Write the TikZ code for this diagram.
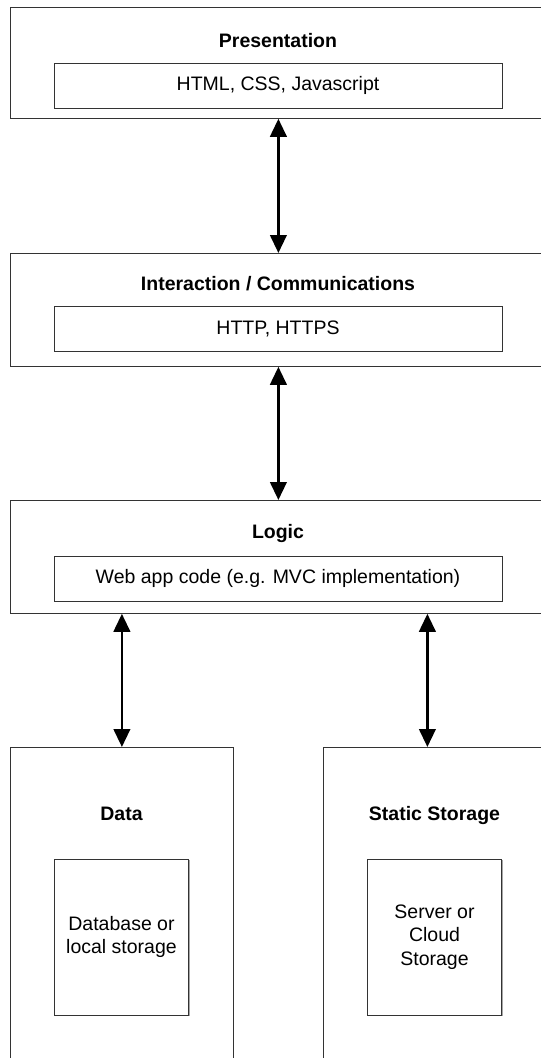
\documentclass[tikz,border=0pt]{standalone}
\usepackage{fontspec}
\setmainfont{Liberation Sans}
\usetikzlibrary{arrows.meta,shadows}
\begin{document}
\begin{tikzpicture}[x=1pt,y=-1pt,
  layer/.style={draw=black!80, line width=0.8pt, fill=white, inner sep=0pt,
    anchor=north west, minimum width=536pt,
    drop shadow={shadow xshift=0.9pt, shadow yshift=-0.9pt, opacity=1, fill=black!35}},
  column/.style={layer, minimum width=223pt, minimum height=330pt},
  item/.style={draw=black!80, line width=0.8pt, fill=white, inner sep=0pt,
    align=center, font=\fontsize{19.5}{23.5}\selectfont,
    drop shadow={shadow xshift=0.9pt, shadow yshift=-0.9pt, opacity=1, fill=black!35}},
  wideitem/.style={item, minimum width=448pt, minimum height=45pt},
  tallitem/.style={item, minimum width=134.5pt, minimum height=156pt},
  title/.style={inner sep=0pt, anchor=base, font=\fontsize{19.5}{23.5}\selectfont\bfseries},
  biarrow/.style={{Triangle[length=18pt,width=16.5pt]}-{Triangle[length=18pt,width=16.5pt]},
    line width=2.6pt, black}
]
\useasboundingbox (0,0) rectangle (541,1058);

% the three stacked tiers
\node[layer, minimum height=111pt] (pres) at (10,7) {};
\node[title] (presT) at (278,47) {Presentation};
\node[wideitem] (presIn) at (278,85.5) {HTML, CSS, Javascript};

\node[layer, minimum height=113pt] (inter) at (10,253) {};
\node[title] (interT) at (278,290) {Interaction / Communications};
\node[wideitem] (interIn) at (278,328.5) {HTTP, HTTPS};

\node[layer, minimum height=113pt] (logic) at (10,500) {};
\node[title] (logicT) at (278,538) {Logic};
\node[wideitem] (logicIn) at (278,578.5) {Web app code (e.g. MVC implementation)};

% the two storage columns
\node[column] (data) at (10,747) {};
\node[title] (dataT) at (121.5,820) {Data};
\node[tallitem] (dataIn) at (121.5,937) {Database or\\local storage};

\node[column] (static) at (323,747) {};
\node[title] (staticT) at (434.5,820) {Static Storage};
\node[tallitem] (staticIn) at (434.5,937) {Server or\\Cloud\\Storage};

% connectors
\path ([xshift=-7.5pt]static.north) coordinate (staticTop);
\draw[biarrow] (pres.south) -- (inter.north);
\draw[biarrow] (inter.south) -- (logic.north);
\draw[biarrow] (logic.south -| data.north) -- (data.north);
\draw[biarrow] (logic.south -| staticTop) -- (staticTop);
\end{tikzpicture}
\end{document}
